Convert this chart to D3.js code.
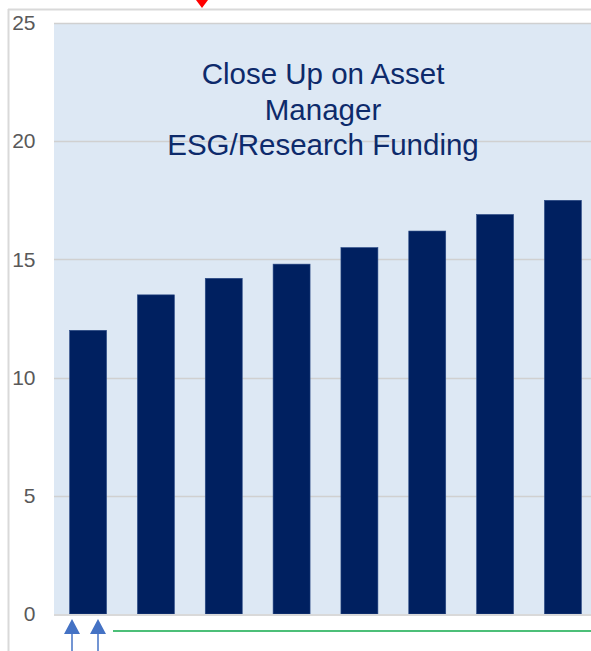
<!DOCTYPE html>
<html>
<head>
<meta charset="utf-8">
<script src="https://cdn.jsdelivr.net/npm/d3@7"></script>
<style>
  html, body { margin: 0; padding: 0; background: #fff; }
  svg { display: block; font-family: "Liberation Sans", Arial, sans-serif; }
</style>
</head>
<body>
<svg id="chart"></svg>
<script>
// Close Up on Asset Manager ESG/Research Funding — 8 bars, no category labels

const categories = ['b1', 'b2', 'b3', 'b4', 'b5', 'b6', 'b7', 'b8'];
const values = [12.0, 13.5, 14.2, 14.8, 15.5, 16.2, 16.9, 17.5];
const yTicks = [0, 5, 10, 15, 20, 25];
const titleLines = ['Close Up on Asset', 'Manager', 'ESG/Research Funding'];

const W = 591, H = 651;
const PLOT = { left: 54, right: 597, top: 23, bottom: 614 };

const svg = d3.select('#chart').attr('width', W).attr('height', H);

// ── Outer frame ─────────────────────────────────────────────────────────────
svg.append('line').attr('x1', 8).attr('x2', W).attr('y1', 9.5).attr('y2', 9.5)
    .attr('stroke', '#d9d9d9').attr('stroke-width', 2);
svg.append('line').attr('x1', 8.5).attr('x2', 8.5).attr('y1', 9).attr('y2', H)
    .attr('stroke', '#d9d9d9').attr('stroke-width', 2);

// red marker at top
svg.append('path')
    .attr('d', 'M196,0 L208,0 L202,8 Z')
    .attr('fill', '#ff0000');

// ── Scales ──────────────────────────────────────────────────────────────────
const x = d3.scaleBand()
    .domain(categories)
    .range([PLOT.left, PLOT.right])
    .paddingInner(0.455)
    .paddingOuter(0.23);

const y = d3.scaleLinear()
    .domain([0, 25])
    .range([PLOT.bottom, PLOT.top]);

// plot background
svg.append('rect')
    .attr('x', PLOT.left).attr('y', PLOT.top)
    .attr('width', PLOT.right - PLOT.left).attr('height', PLOT.bottom - PLOT.top)
    .attr('fill', '#dde8f4');

// gridlines
svg.append('g').selectAll('line')
    .data(yTicks.filter(t => t > 0))
    .join('line')
    .attr('x1', PLOT.left).attr('x2', PLOT.right)
    .attr('y1', d => Math.round(y(d)) + 0.5).attr('y2', d => Math.round(y(d)) + 0.5)
    .attr('stroke', '#d0d0d0').attr('stroke-width', 1.5);

// y axis labels
const yAxis = svg.append('g')
    .attr('transform', `translate(35.5,0)`)
    .call(d3.axisLeft(y).tickValues(yTicks).tickSize(0).tickPadding(0));
yAxis.select('.domain').remove();
yAxis.selectAll('text')
    .attr('font-size', 21)
    .attr('font-family', '"Liberation Sans", Arial, sans-serif')
    .attr('fill', '#595959');

// bars
svg.append('g').selectAll('rect')
    .data(values)
    .join('rect')
    .attr('x', (d, i) => x(categories[i]))
    .attr('width', x.bandwidth())
    .attr('y', d => y(d))
    .attr('height', d => y(0) - y(d))
    .attr('fill', '#002060')
    .attr('stroke', '#2a4a85')
    .attr('stroke-width', 0.6);

// x axis baseline
svg.append('line')
    .attr('x1', PLOT.left).attr('x2', PLOT.right)
    .attr('y1', y(0) + 1).attr('y2', y(0) + 1)
    .attr('stroke', '#d9d9d9').attr('stroke-width', 2);

// title
const title = svg.append('text')
    .attr('x', 323)
    .attr('y', 84)
    .attr('text-anchor', 'middle')
    .attr('font-size', 29.5)
    .attr('fill', '#0d2a6b');
title.selectAll('tspan')
    .data(titleLines)
    .join('tspan')
    .attr('x', 323)
    .attr('dy', (d, i) => i === 0 ? 0 : 35.5)
    .text(d => d);

// ── Bottom annotations ─────────────────────────────────────────────────────
[72, 98].forEach(cx => {
    svg.append('line')
        .attr('x1', cx).attr('x2', cx).attr('y1', 630).attr('y2', H)
        .attr('stroke', '#4472c4').attr('stroke-width', 1.5);
    svg.append('path')
        .attr('d', `M${cx - 8},634 L${cx + 8},634 L${cx},619 Z`)
        .attr('fill', '#4472c4');
});

svg.append('line')
    .attr('x1', 113).attr('x2', W).attr('y1', 631).attr('y2', 631)
    .attr('stroke', '#4cbf78').attr('stroke-width', 2);
</script>
</body>
</html>
